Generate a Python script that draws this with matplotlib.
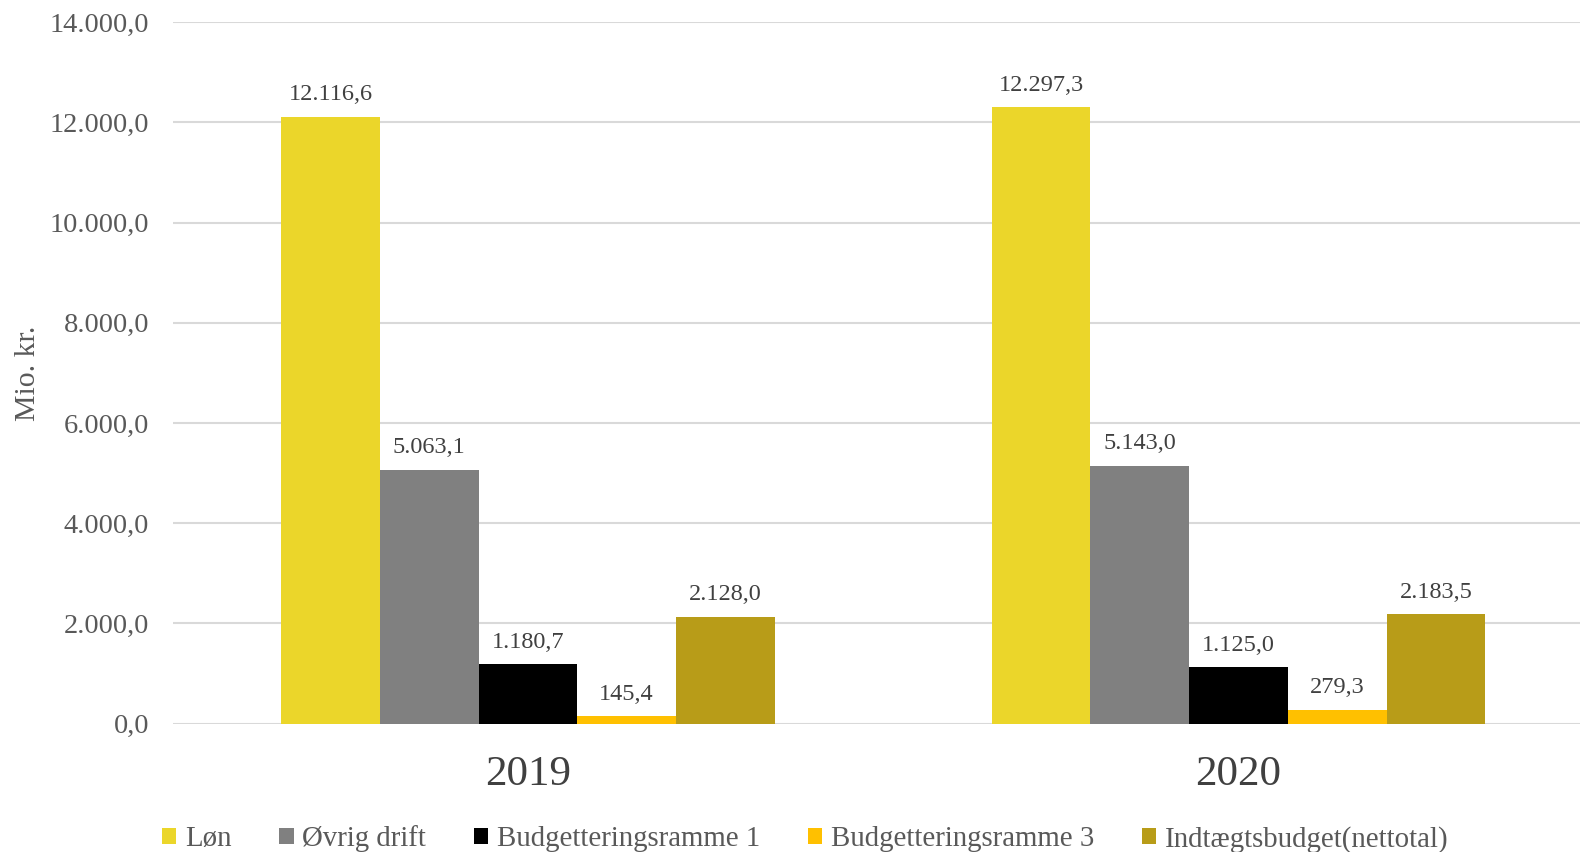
import matplotlib
matplotlib.use("Agg")
import matplotlib.pyplot as plt
import numpy as np
from matplotlib.patches import Patch

years = ["2019", "2020"]
series_names = ["Løn", "Øvrig drift", "Budgetteringsramme 1", "Budgetteringsramme 3", "Indtægtsbudget(nettotal)"]
values = {
    "Løn": [12116.6, 12297.3],
    "Øvrig drift": [5063.1, 5143.0],
    "Budgetteringsramme 1": [1180.7, 1125.0],
    "Budgetteringsramme 3": [145.4, 279.3],
    "Indtægtsbudget(nettotal)": [2128.0, 2183.5],
}
colors = ["#EBD62A", "#808080", "#000000", "#FFC000", "#B89C18"]
yticks = [0, 2000, 4000, 6000, 8000, 10000, 12000, 14000]

def dk(v):
    s = f"{v:,.1f}"
    return s.replace(",", "X").replace(".", ",").replace("X", ".")

plt.rcParams['font.family'] = ['Liberation Serif', 'DejaVu Serif']
fig = plt.figure(figsize=(15.8, 8.52), dpi=100)
ax = fig.add_axes([0.1092, 0.1508, 0.8996, 0.8232])

x = np.arange(len(years))
w = 0.1389
n = len(series_names)
for i, (name, c) in enumerate(zip(series_names, colors)):
    pos = x + (i - (n - 1) / 2) * w
    bars = ax.bar(pos, values[name], width=w, color=c, zorder=3)
    for b, v in zip(bars, values[name]):
        ax.text(b.get_x() + b.get_width() / 2, v + 230, dk(v), ha="center", va="bottom",
                fontsize=17.5, color="#404040")

ax.set_xlim(-0.5, 1.5)
ax.set_ylim(0, 14000)
ax.set_yticks(yticks)
ax.set_yticklabels([dk(v) for v in yticks], fontsize=20.5, color="#595959")
ax.set_xticks(x)
ax.set_xticklabels(years, fontsize=31, color="#404040")
ax.tick_params(axis="both", length=0)
ax.tick_params(axis="x", pad=23)
ax.tick_params(axis="y", pad=17)
ax.yaxis.grid(True, color="#D9D9D9", linewidth=1.5, zorder=0)
for s in ax.spines.values():
    s.set_visible(False)
ax.set_ylabel("Mio. kr.", fontsize=21.5, color="#595959", labelpad=6)

handles = [Patch(facecolor=c, edgecolor="none") for c in colors]
fig.legend(handles, series_names, loc="center", bbox_to_anchor=(0.5096, 1 - 839 / 852), ncol=5,
           frameon=False, fontsize=20.8, handlelength=0.5, handleheight=0.5, handletextpad=0.3,
           columnspacing=1.65, labelcolor="#595959")

fig.savefig("out.png", dpi=100)
